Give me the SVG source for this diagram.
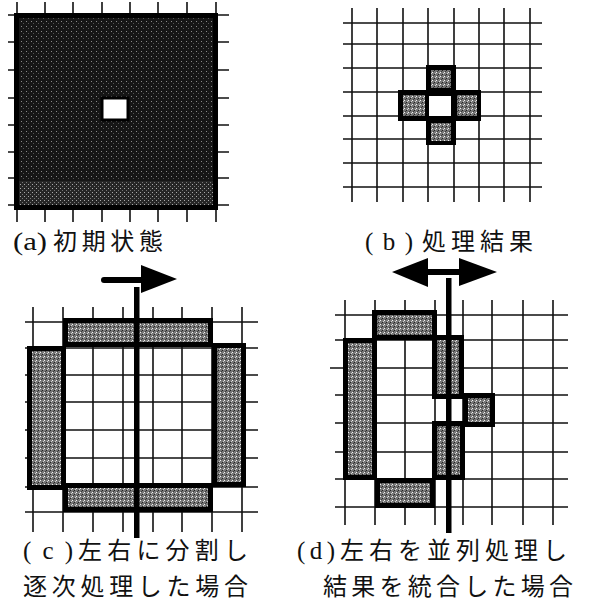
<svg xmlns="http://www.w3.org/2000/svg" width="589" height="604" viewBox="0 0 589 604">
<defs>
<pattern id="stip" width="4" height="4" patternUnits="userSpaceOnUse">
<rect width="4" height="4" fill="#767676"/>
<rect x="0" y="0" width="1" height="1" fill="#f2f2f2"/>
<rect x="2" y="2" width="1" height="1" fill="#222"/>
<rect x="3" y="1" width="1" height="1" fill="#cfcfcf"/>
<rect x="1" y="3" width="1" height="1" fill="#3a3a3a"/>
</pattern>
<pattern id="dark" width="5" height="5" patternUnits="userSpaceOnUse">
<rect width="5" height="5" fill="#161616"/>
<rect x="1" y="1" width="1" height="1" fill="#8a8a8a"/>
<rect x="3" y="3" width="1" height="1" fill="#555"/>
</pattern>
<pattern id="dark2" width="4" height="4" patternUnits="userSpaceOnUse">
<rect width="4" height="4" fill="#262626"/>
<rect x="0" y="0" width="1" height="1" fill="#aaa"/>
<rect x="2" y="2" width="1" height="1" fill="#777"/>
</pattern>
</defs>
<style>
.g{stroke:#111;stroke-width:1.6;fill:none}
.cell{fill:url(#stip);stroke:#000;stroke-width:5}
.bar{fill:#000}
.t{font-family:"Noto Sans CJK JP","Noto Sans CJK SC",sans-serif;font-size:24px;fill:#111}
.l{font-family:"Liberation Serif","DejaVu Serif",serif;font-size:25px;fill:#111}
</style>
<rect width="589" height="604" fill="#fff"/>

<g id="panel-a">
<g class="g">
<path d="M17 2V222M45 2V222M73 2V222M102 2V222M130 2V222M158 2V222M187 2V222M216 2V222"/>
<path d="M8 15H229M8 42H229M8 70H229M8 98H229M8 125H229M8 152H229M8 178H229M8 205H229"/>
</g>
<rect x="16.5" y="15.5" width="199" height="192" fill="url(#dark)" stroke="#000" stroke-width="5"/>
<rect x="19" y="181" width="194" height="24" fill="url(#dark2)"/>
<rect x="102" y="98" width="26" height="22" fill="#fff" stroke="#000" stroke-width="3"/>
<text class="l" x="13" y="250" textLength="34" lengthAdjust="spacingAndGlyphs">(a)</text>
<text class="t" x="53" y="250" textLength="110" lengthAdjust="spacing">初期状態</text>
</g>

<g id="panel-b">
<g class="g">
<path d="M352 8V202M377 8V202M403 8V202M428 8V202M454 8V202M479 8V202M504 8V202M530 8V202"/>
<path d="M343 23H542M343 44H542M343 68H542M343 92H542M343 116H542M343 139H542M343 163H542M343 187H542"/>
</g>
<polygon points="426,65 456,65 456,90 481,90 481,121 456,121 456,145 426,145 426,121 398,121 398,90 426,90" fill="#000"/>
<rect x="431" y="70" width="20" height="18" fill="url(#stip)"/>
<rect x="403" y="95" width="22" height="21" fill="url(#stip)"/>
<rect x="457" y="95" width="20" height="21" fill="url(#stip)"/>
<rect x="431" y="123" width="20" height="18" fill="url(#stip)"/>
<rect x="429" y="96" width="22" height="20" fill="#fff"/>
<text class="l" x="365" y="250" textLength="48" lengthAdjust="spacing">(b)</text>
<text class="t" x="422" y="250" textLength="111" lengthAdjust="spacing">処理結果</text>
</g>

<g id="panel-c">
<g class="g">
<path d="M33 307V532M63 307V532M93 307V532M123 307V532M153 307V532M182 307V532M212 307V532M242 307V532"/>
<path d="M25 322H258M25 348H258M25 375H258M25 402H258M25 430H258M25 458H258M25 487H258M25 512H258"/>
</g>
<rect class="cell" x="65.5" y="320.5" width="145" height="24"/>
<rect class="cell" x="29.5" y="348.5" width="34" height="139"/>
<rect class="cell" x="214.5" y="345.5" width="29" height="139"/>
<rect class="cell" x="65.5" y="485.5" width="145" height="24"/>
<rect class="bar" x="134" y="287" width="5.5" height="251"/>
<line x1="104" y1="280" x2="143" y2="280" stroke="#000" stroke-width="6" stroke-linecap="round"/>
<polygon points="141,265 177,279 141,293" fill="#000"/>
<text class="l" x="23" y="559" textLength="50" lengthAdjust="spacing">(c)</text>
<text class="t" x="78" y="559" textLength="170" lengthAdjust="spacing">左右に分割し</text>
<text class="t" x="23" y="595" textLength="225" lengthAdjust="spacing">逐次処理した場合</text>
</g>

<g id="panel-d">
<g class="g">
<path d="M345 300V525M375 300V525M405 300V525M435 300V525M463 300V525M492 300V525M523 300V525M553 300V525"/>
<path d="M335 315H568M335 340H568M330 368H568M335 395H568M335 423H568M335 452H568M335 479H568M335 507H568"/>
</g>
<rect class="cell" x="374.5" y="312.5" width="60" height="25"/>
<rect class="cell" x="345.5" y="340.5" width="29" height="137"/>
<rect class="cell" x="377.5" y="480.5" width="55" height="25"/>
<rect class="cell" x="434.5" y="337.5" width="27" height="59"/>
<rect class="cell" x="434.5" y="423.5" width="28" height="54"/>
<rect class="cell" x="465.5" y="395.5" width="27" height="29"/>
<rect class="bar" x="446" y="278" width="5.5" height="255"/>
<rect class="bar" x="425" y="269" width="37" height="6"/>
<polygon points="392,272 428,258 428,287" fill="#000"/>
<polygon points="497,272 459,258 459,286" fill="#000"/>
<text class="l" x="297" y="559" textLength="38" lengthAdjust="spacing">(d)</text>
<text class="t" x="340" y="559" textLength="227" lengthAdjust="spacing">左右を並列処理し</text>
<text class="t" x="323" y="595" textLength="250" lengthAdjust="spacing">結果を統合した場合</text>
</g>
</svg>
